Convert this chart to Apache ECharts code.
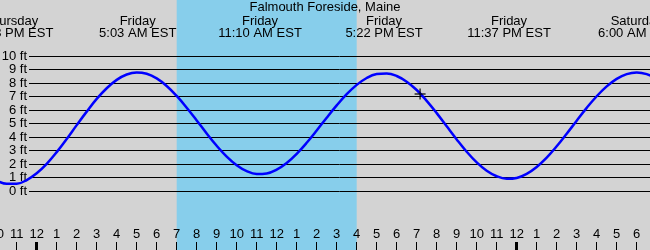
<!DOCTYPE html>
<html><head><meta charset="utf-8">
<script src="https://cdn.jsdelivr.net/npm/echarts@6/dist/echarts.min.js"></script>
<style>html,body{margin:0;padding:0;background:#d3d3d3}#c{width:650px;height:250px}</style>
</head><body><div id="c"></div>
<script>
// ---- data ----
const stationTitle = 'Falmouth Foreside, Maine';
// hours since Friday 00:00 EST
const sampleHours = [-2,-1.5,-1,-0.5,0,0.5,1,1.5,2,2.5,3,3.5,4,4.5,5,5.5,6,6.5,7,7.5,8,8.5,9,9.5,10,10.5,11,11.5,12,12.5,13,13.5,14,14.5,15,15.5,16,16.5,17,17.5,18,18.5,19,19.5,20,20.5,21,21.5,22,22.5,23,23.5,24,24.5,25,25.5,26,26.5,27,27.5,28,28.5,29,29.5,30,30.5,31];
const tideFt = [0.78,0.53,0.54,0.81,1.31,2.01,2.88,3.85,4.88,5.88,6.82,7.61,8.23,8.63,8.78,8.68,8.34,7.78,7.04,6.17,5.23,4.26,3.35,2.55,1.91,1.47,1.26,1.30,1.58,2.07,2.75,3.57,4.48,5.43,6.34,7.17,7.86,8.37,8.66,8.71,8.52,8.10,7.48,6.68,5.77,4.79,3.82,2.91,2.12,1.50,1.09,0.91,0.97,1.27,1.78,2.47,3.31,4.24,5.21,6.16,7.02,7.75,8.31,8.66,8.78,8.66,8.31];
const hourTicks = [-2,-1,0,1,2,3,4,5,6,7,8,9,10,11,12,13,14,15,16,17,18,19,20,21,22,23,24,25,26,27,28,29,30,31];
const midnightHours = [0, 24];
const extremeHours = [-1.28, 5.05, 11.167, 17.367, 23.617, 30.0];
const extremeLabels = ['Thursday\n10:43 PM EST','Friday\n5:03 AM EST','Friday\n11:10 AM EST','Friday\n5:22 PM EST','Friday\n11:37 PM EST','Saturday\n6:00 AM EST'];
const daylight = [7, 16];
const markerHour = 19.17, markerFt = 7.19;
const ftMin = 0, ftMax = 10, ftStep = 1;

// ---- build ----
const FONT = 'Liberation Sans';
const X0 = -2, X1 = 31;
const pts = sampleHours.map((h, i) => [h, tideFt[i]]);

function fmtHour(v) { const h = ((Math.round(v) % 12) + 12) % 12; return String(h === 0 ? 12 : h); }
function fmtExtreme(v) {
  for (let i = 0; i < extremeHours.length; i++) if (Math.abs(extremeHours[i] - v) < 1e-6) return extremeLabels[i];
  return '';
}
const full = { left: -3.3, right: -6.7, top: 0, bottom: 0, outerBoundsMode: 'none', containLabel: false };
const plot = { left: -3.3, right: -6.7, top: 56, bottom: 59, outerBoundsMode: 'none', containLabel: false };

const option = {
  backgroundColor: '#d3d3d3',
  animation: false,
  textStyle: { fontFamily: FONT },
  title: { text: stationTitle, left: 'center', top: 1, padding: 0, textStyle: { fontSize: 13, fontWeight: 'normal', color: '#000', fontFamily: FONT } },
  grid: [
    Object.assign({}, full),
    { left: 29, right: 0, top: 56, bottom: 59, outerBoundsMode: 'none', containLabel: false },
    Object.assign({}, plot),
    Object.assign({}, full)
  ],
  xAxis: [
    { gridIndex: 0, type: 'value', min: X0, max: X1, position: 'bottom', z: 5,
      axisLine: { show: false }, splitLine: { show: false },
      axisTick: { show: true, inside: true, length: 8, lineStyle: { color: '#000', width: 1 }, customValues: hourTicks },
      axisLabel: { inside: true, customValues: hourTicks, margin: 9, formatter: fmtHour, fontSize: 13, color: '#000', fontFamily: FONT, hideOverlap: false } },
    { gridIndex: 0, type: 'value', min: X0, max: X1, position: 'top', z: 5,
      axisLine: { show: false }, splitLine: { show: false }, axisTick: { show: false },
      axisLabel: { inside: true, customValues: extremeHours, margin: 15, formatter: fmtExtreme, fontSize: 13, lineHeight: 12, color: '#000', fontFamily: FONT, hideOverlap: false } },
    { gridIndex: 1, type: 'value', show: false, min: 0, max: 1 },
    { gridIndex: 2, type: 'value', show: false, min: X0, max: X1 },
    { gridIndex: 3, type: 'value', min: X0, max: X1, position: 'bottom', z: 6,
      axisLine: { show: false }, splitLine: { show: false }, axisLabel: { show: false },
      axisTick: { show: true, inside: true, length: 8, lineStyle: { color: '#000', width: 3 }, customValues: midnightHours } }
  ],
  yAxis: [
    { gridIndex: 0, type: 'value', show: false, min: 0, max: 1 },
    { gridIndex: 1, type: 'value', min: ftMin, max: ftMax, interval: ftStep, z: 5,
      axisLine: { show: false }, axisTick: { show: false },
      splitLine: { show: true, lineStyle: { color: '#000', width: 1 } },
      axisLabel: { formatter: '{value} ft', margin: 2, fontSize: 13, color: '#000', fontFamily: FONT } },
    { gridIndex: 2, type: 'value', show: false, min: ftMin, max: ftMax },
    { gridIndex: 3, type: 'value', show: false, min: 0, max: 1 }
  ],
  series: [
    { type: 'line', xAxisIndex: 0, yAxisIndex: 0, data: [[X0, 0]], symbol: 'none', lineStyle: { opacity: 0 }, z: 1, silent: true,
      markArea: { silent: true, itemStyle: { color: '#87ceeb' }, data: [[{ xAxis: daylight[0] }, { xAxis: daylight[1] }]] } },
    { type: 'line', xAxisIndex: 3, yAxisIndex: 2, data: pts, smooth: 0.4, showSymbol: false, symbol: 'none', z: 10,
      lineStyle: { color: '#0000ff', width: 2.5 } },
    { type: 'scatter', xAxisIndex: 3, yAxisIndex: 2, data: [[markerHour, markerFt]], z: 11,
      symbol: 'path://M5,0H6.5V5H11.5V6.5H6.5V11.5H5V6.5H0V5H5Z', symbolSize: 11, itemStyle: { color: '#000' } }
  ]
};
echarts.init(document.getElementById('c'), null, { renderer: 'canvas' }).setOption(option);
</script>
</body></html>
